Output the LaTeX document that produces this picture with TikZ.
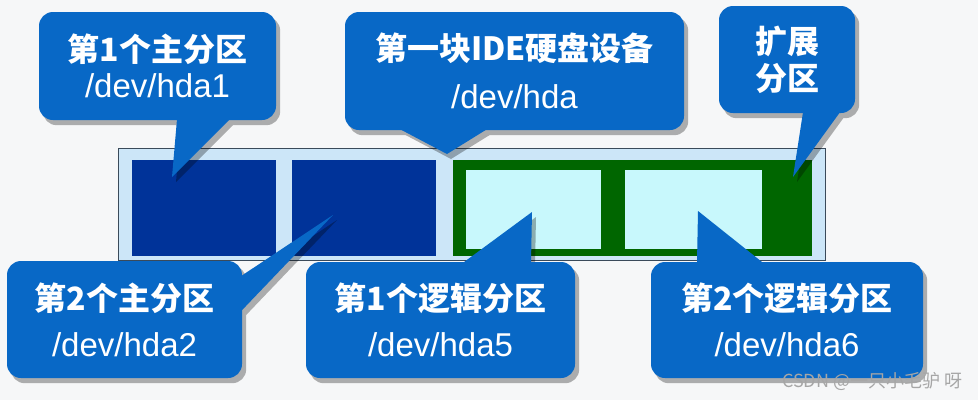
\documentclass[tikz,border=0pt]{standalone}
\usepackage{fontspec}
\setmainfont{Liberation Sans}
\newfontfamily\cjk{Noto Sans CJK SC}
\usetikzlibrary{calc}
\definecolor{calloutBlue}{HTML}{0868C6}
\definecolor{partBlue}{HTML}{003399}
\definecolor{extGreen}{HTML}{006600}
\definecolor{logCyan}{HTML}{C8F8FC}
\definecolor{diskFill}{HTML}{CCE6F8}
\definecolor{diskEdge}{HTML}{3A4A5A}
\definecolor{pageBg}{HTML}{F6F7F8}
\newcommand{\zh}[1]{{\cjk\bfseries #1}}
\newcommand{\devname}[1]{{\fontsize{33}{36}\selectfont #1}}
\pgfdeclarelayer{bg}
\pgfdeclarelayer{shade}
\pgfsetlayers{bg,shade,main}

\begin{document}
\begin{tikzpicture}[
  x=1pt, y=-1pt,
  callout/.style={fill=calloutBlue, text=white, rounded corners=14pt,
    align=center, inner sep=0pt, font=\fontsize{32}{36}\selectfont},
  pointer/.style={fill=calloutBlue},
  part/.style={fill=#1, draw=none}
]
\useasboundingbox (0,0) rectangle (978,400);
\begin{pgfonlayer}{bg}
\fill[pageBg] (0,0) rectangle (978,400);
% disk with its partitions
\draw[draw=diskEdge, fill=diskFill, line width=1pt] (118,148) rectangle (825,260);
\fill[part=partBlue] (132,160) rectangle (276,256);
\fill[part=partBlue] (292,160) rectangle (436,256);
\fill[part=extGreen] (453,160) rectangle (812,256);
\fill[part=logCyan] (466,170) rectangle (601,249);
\fill[part=logCyan] (625,170) rectangle (762,249);
\end{pgfonlayer}

\node[callout, minimum width=237pt, minimum height=108pt] (c1) at (157.5,66)
  {\zh{第1个主分区}\\\devname{/dev/hda1}};
\node[callout, minimum width=339pt, minimum height=118pt] (c2) at (514.5,71)
  {\zh{第一块IDE硬盘设备}\\[12pt]\devname{/dev/hda}};
\node[callout, minimum width=136pt, minimum height=107pt] (c3) at (787,59.5)
  {\zh{扩展}\\[1pt]\zh{分区}};
\node[callout, minimum width=235pt, minimum height=117pt] (c4) at (124.5,319.5)
  {\zh{第2个主分区}\\[10pt]\devname{/dev/hda2}};
\node[callout, minimum width=269pt, minimum height=116pt] (c5) at (440.5,320)
  {\zh{第1个逻辑分区}\\[10pt]\devname{/dev/hda5}};
\node[callout, minimum width=272pt, minimum height=116pt] (c6) at (787,320)
  {\zh{第2个逻辑分区}\\[10pt]\devname{/dev/hda6}};

% pointer tips and bases
\coordinate (t1) at (172,177);
\coordinate (t2) at (447,154);
\coordinate (t3) at (793,177);
\coordinate (t4) at (333,215);
\coordinate (t5) at (532,212);
\coordinate (t6) at (698,211);
\coordinate (b1a) at ($(c1.south)+(19.5,-1)$);
\coordinate (b1b) at ($(c1.south)+(72.5,-1)$);
\coordinate (b2a) at ($(c2.south)+(-114.5,-1)$);
\coordinate (b2b) at ($(c2.south)+(-27.5,-1)$);
\coordinate (b3a) at ($(c3.south)+(16,-1)$);
\coordinate (b3b) at ($(c3.south)+(53,-1)$);
\coordinate (b4a) at ($(c4.east)+(-1,-43.5)$);
\coordinate (b4b) at ($(c4.east)+(-1,-8.5)$);
\coordinate (b5a) at ($(c5.north)+(22.5,1)$);
\coordinate (b5b) at ($(c5.north)+(90.5,1)$);
\coordinate (b6a) at ($(c6.north)+(-90,1)$);
\coordinate (b6b) at ($(c6.north)+(-24,1)$);

\foreach \p in {1,...,6}
  \fill[pointer] (b\p a) -- (t\p) -- (b\p b) -- cycle;

% soft shadows under the callouts
\begin{pgfonlayer}{shade}
\begin{scope}[transparency group, opacity=0.3]
\foreach \p in {1,...,6} {
  \fill[black, rounded corners=14pt] ($(c\p.north west)+(4,5)$) rectangle ($(c\p.south east)+(4,5)$);
  \fill[black] ($(b\p a)+(4,5)$) -- ($(t\p)+(4,5)$) -- ($(b\p b)+(4,5)$) -- cycle;
}
\end{scope}
\end{pgfonlayer}

\node[font=\cjk\fontsize{18}{20}\selectfont, text=gray!70, anchor=east] (mark) at (966,381)
  {CSDN @一只小毛驴 呀};
\end{tikzpicture}
\end{document}
